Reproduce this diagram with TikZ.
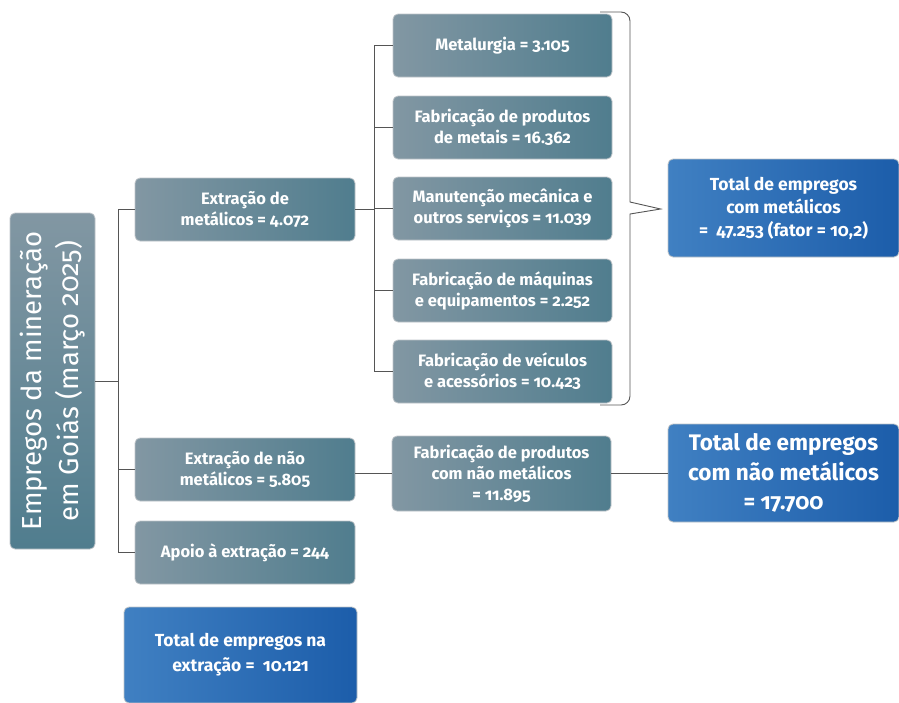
\documentclass[tikz,border=0pt]{standalone}
\usepackage{fontspec}
\setmainfont{Fira Sans}[Numbers=OldStyle]
\usepackage{tikz}
\usetikzlibrary{calc}
\definecolor{grey1} {RGB} {130, 151, 163}
\definecolor{grey2} {RGB} {80, 125, 142}
\definecolor{blue1} {RGB} {64, 128, 194}
\definecolor{blue2} {RGB} {28, 93, 170}
\definecolor{edge1} {RGB} {190, 196, 200}
\definecolor{wire} {RGB} {85, 85, 85}
\tikzstyle{box}=[
  rectangle, rounded corners=5pt, draw=edge1, line width=0.8pt, text=white,
  align=center, inner sep=0pt
]
\tikzstyle{greybox}=[box, left color=grey1, right color=grey2,
  minimum width=220pt, minimum height=63pt, font=\fontsize{16.5}{21}\selectfont\bfseries]
\tikzstyle{bluebox}=[box, left color=blue1, right color=blue2,
  minimum width=231pt, minimum height=98pt, font=\fontsize{17.5}{23}\selectfont\bfseries]
\tikzstyle{wires}=[draw=wire, line width=0.9pt]

\begin{document}
\begin{tikzpicture}[x=1pt, y=-1pt]
      \useasboundingbox (0,0) rectangle (899,702);
      % root
      \node[box, top color=grey1, bottom color=grey2, minimum width=336pt, minimum height=85pt,
        rotate=90, font=\fontsize{27.5}{37}\selectfont] (root) at (52.5,381)
        {Empregos da mineração\\em Goiás (março 2025)};
      % level 1
      \node[greybox] (met) at (245,209.5) {Extração de\\metálicos = 4.072};
      \node[greybox] (nmet) at (245,469.5) {Extração de não\\metálicos = 5.805};
      \node[greybox] (apoio) at (245,552.5) {Apoio à extração = 244};
      % level 2
      \node[greybox, minimum width=219pt] (metal) at (502.5,45.5) {Metalurgia = 3.105};
      \node[greybox, minimum width=219pt] (prod) at (502.5,127.5) {Fabricação de produtos\\de metais = 16.362};
      \node[greybox, minimum width=219pt] (manut) at (502.5,208.5) {Manutenção mecânica e\\outros serviços = 11.039};
      \node[greybox, minimum width=219pt] (maq) at (502.5,290.5) {Fabricação de máquinas\\e equipamentos = 2.252};
      \node[greybox, minimum width=219pt] (veic) at (502.5,371.5) {Fabricação de veículos\\e acessórios = 10.423};
      \node[greybox, minimum width=219pt, minimum height=75pt] (fnmet) at (501.5,473.5)
        {Fabricação de produtos\\com não metálicos\\= 11.895};
      % totals
      \node[bluebox] (tmet) at (783.5,208) {Total de empregos\\com metálicos\\=\ \ 47.253 (fator = 10,2)};
      \node[bluebox, font=\fontsize{22.5}{29.5}\selectfont\bfseries] (tnmet) at (783.5,473)
        {Total de empregos\\com não metálicos\\= 17.700};
      \node[bluebox, minimum width=233pt, minimum height=96pt, font=\fontsize{17.5}{25}\selectfont\bfseries]
        (text) at (240.5,655) {Total de empregos na\\extração =\ \ 10.121};
      % connectors
      \coordinate (f1) at (118,381);
      \coordinate (f2) at (374,209.5);
      \draw[wires] (root.south) -- (f1);
      \draw[wires] (met.west -| f1) -- (apoio.west -| f1);
      \foreach \n in {met,nmet,apoio} \draw[wires] (\n.west -| f1) -- (\n.west);
      \draw[wires] (met.east) -- (f2);
      \draw[wires] (metal.west -| f2) -- (veic.west -| f2);
      \foreach \n in {metal,prod,manut,maq,veic} \draw[wires] (\n.west -| f2) -- (\n.west);
      \draw[wires] (nmet.east |- fnmet.west) -- (fnmet.west);
      \draw[wires] (fnmet.east) -- (tnmet.west |- fnmet.east);
      % brace
      \coordinate (tip) at ($(tmet.west)+(-7,1)$);
      \draw[wires] (600,12) [rounded corners=9pt] -- (630,12) -- (630,60) [sharp corners]
        -- (630,202) -- (tip) -- (630,214) -- (630,360) [rounded corners=9pt] -- (630,405) -- (600,405);
\end{tikzpicture}
\end{document}
